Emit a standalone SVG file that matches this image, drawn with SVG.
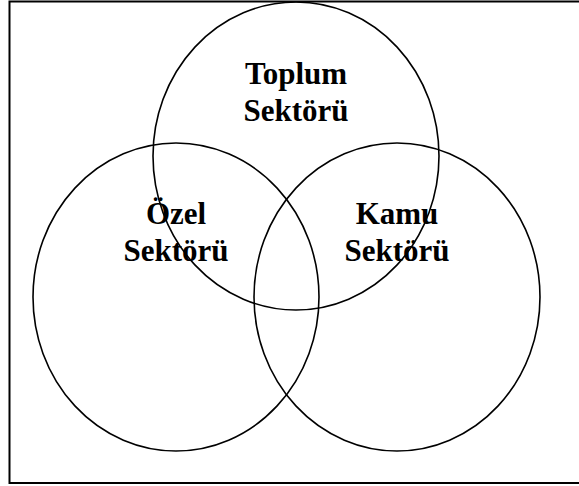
<svg xmlns="http://www.w3.org/2000/svg" width="579" height="486" viewBox="0 0 579 486">
<style>
.c{fill:none;stroke:#000;stroke-width:1.6}
.t{font-family:"Liberation Serif","Times New Roman",serif;font-weight:bold;font-size:31px;fill:#000;text-anchor:middle}
</style>
<rect x="0" y="0" width="579" height="486" fill="#fff"/>
<rect id="frame" x="9.5" y="1.5" width="580" height="481.5" fill="none" stroke="#000" stroke-width="2"/>
<g id="toplum">
<ellipse class="c" cx="296" cy="156" rx="143" ry="154"/>
<text class="t" x="296" y="84">Toplum</text>
<text class="t" x="296" y="121">Sektörü</text>
</g>
<g id="ozel">
<ellipse class="c" cx="176" cy="297" rx="143" ry="154"/>
<text class="t" x="176" y="224">Özel</text>
<text class="t" x="176" y="261">Sektörü</text>
</g>
<g id="kamu">
<ellipse class="c" cx="397" cy="297" rx="143" ry="154"/>
<text class="t" x="397" y="224">Kamu</text>
<text class="t" x="397" y="261">Sektörü</text>
</g>
<g id="connectors"/>
</svg>
